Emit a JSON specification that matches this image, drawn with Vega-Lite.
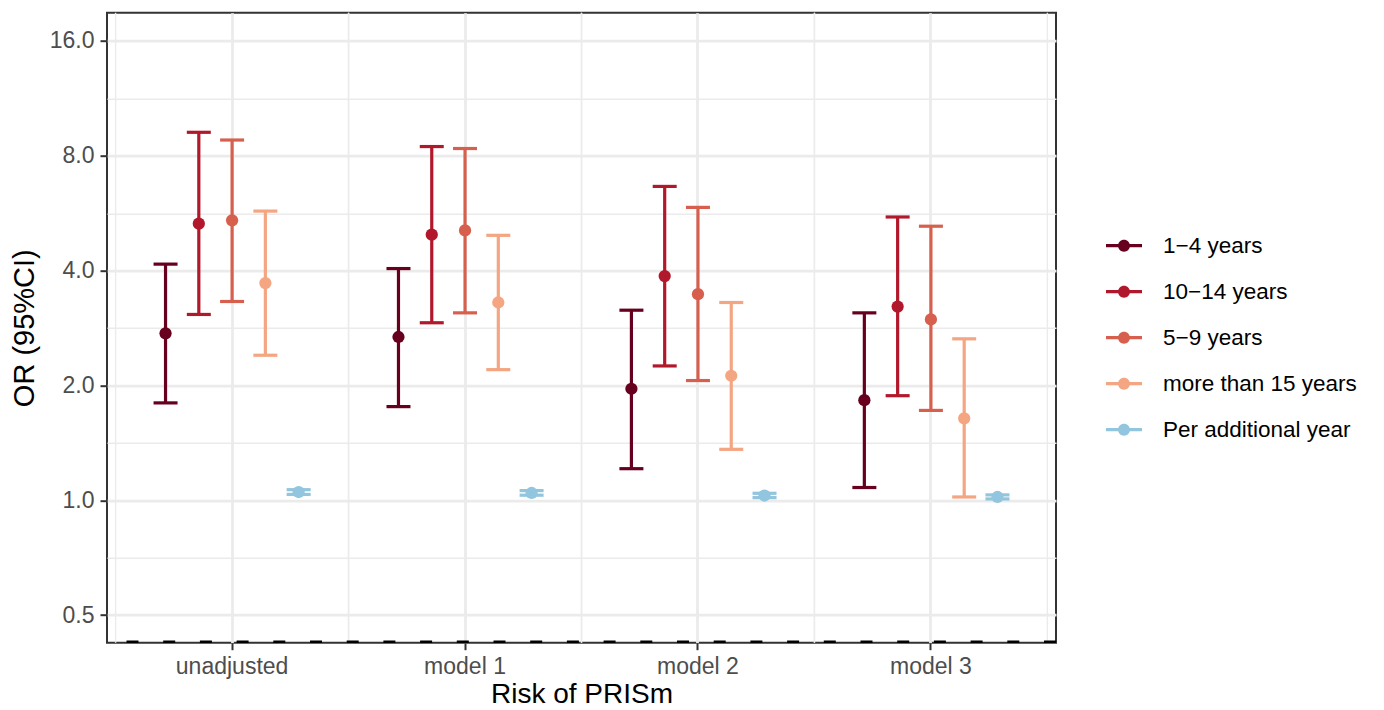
{
  "$schema": "https://vega.github.io/schema/vega-lite/v6.json",
  "width": 949,
  "height": 630,
  "autosize": {"type": "none"},
  "padding": {"left": 107, "top": 12.7, "right": 328, "bottom": 67.3},
  "config": {
    "font": "Liberation Sans",
    "view": {"stroke": "#333333", "strokeWidth": 2}
  },
  "datasets": {
    "or": [
      {"model": "unadjusted", "group": "1−4 years", "or": 2.74, "lo": 1.80, "hi": 4.16},
      {"model": "unadjusted", "group": "10−14 years", "or": 5.31, "lo": 3.07, "hi": 9.22},
      {"model": "unadjusted", "group": "5−9 years", "or": 5.42, "lo": 3.32, "hi": 8.80},
      {"model": "unadjusted", "group": "more than 15 years", "or": 3.71, "lo": 2.40, "hi": 5.73},
      {"model": "unadjusted", "group": "Per additional year", "or": 1.051, "lo": 1.036, "hi": 1.066},
      {"model": "model 1", "group": "1−4 years", "or": 2.68, "lo": 1.76, "hi": 4.05},
      {"model": "model 1", "group": "10−14 years", "or": 4.97, "lo": 2.92, "hi": 8.46},
      {"model": "model 1", "group": "5−9 years", "or": 5.10, "lo": 3.10, "hi": 8.36},
      {"model": "model 1", "group": "more than 15 years", "or": 3.30, "lo": 2.20, "hi": 4.95},
      {"model": "model 1", "group": "Per additional year", "or": 1.045, "lo": 1.031, "hi": 1.060},
      {"model": "model 2", "group": "1−4 years", "or": 1.96, "lo": 1.21, "hi": 3.15},
      {"model": "model 2", "group": "10−14 years", "or": 3.87, "lo": 2.25, "hi": 6.65},
      {"model": "model 2", "group": "5−9 years", "or": 3.47, "lo": 2.06, "hi": 5.86},
      {"model": "model 2", "group": "more than 15 years", "or": 2.12, "lo": 1.36, "hi": 3.30},
      {"model": "model 2", "group": "Per additional year", "or": 1.029, "lo": 1.016, "hi": 1.043},
      {"model": "model 3", "group": "1−4 years", "or": 1.83, "lo": 1.08, "hi": 3.10},
      {"model": "model 3", "group": "10−14 years", "or": 3.22, "lo": 1.88, "hi": 5.53},
      {"model": "model 3", "group": "5−9 years", "or": 2.98, "lo": 1.72, "hi": 5.23},
      {"model": "model 3", "group": "more than 15 years", "or": 1.64, "lo": 1.02, "hi": 2.65},
      {"model": "model 3", "group": "Per additional year", "or": 1.020, "lo": 1.008, "hi": 1.033}
    ],
    "models": [
      {"model": "unadjusted"},
      {"model": "model 1"},
      {"model": "model 2"},
      {"model": "model 3"}
    ]
  },
  "layer": [
    {
      "data": {"name": "models"},
      "mark": {"type": "rule", "color": "#ebebeb", "strokeWidth": 1.4},
      "encoding": {
        "x": {
          "field": "model", "type": "nominal", "bandPosition": 0,
          "scale": {"domain": ["unadjusted", "model 1", "model 2", "model 3"], "paddingInner": 0, "paddingOuter": 0.037},
          "title": "Risk of PRISm",
          "axis": {
            "grid": true, "gridColor": "#ebebeb", "gridWidth": 2.8, "bandPosition": 0.5,
            "domain": false, "tickColor": "#333333", "tickWidth": 2, "tickSize": 7,
            "labelFontSize": 23, "labelColor": "#4d4d4d", "labelPadding": 6, "labelAngle": 0,
            "titleFontSize": 28, "titleFontWeight": "normal", "titleColor": "#000000", "titlePadding": 2
          }
        }
      }
    },
    {
      "data": {"name": "models"},
      "mark": {"type": "rule", "color": "#ebebeb", "strokeWidth": 1.4},
      "encoding": {
        "x": {"field": "model", "type": "nominal", "bandPosition": 1, "title": "Risk of PRISm"}
      }
    },
    {
      "data": {"name": "or"},
      "mark": {"type": "rule", "strokeWidth": 3.2, "opacity": 1},
      "encoding": {
        "x": {"field": "model", "type": "nominal", "title": "Risk of PRISm"},
        "xOffset": {"field": "group", "type": "nominal", "scale": {"domain": ["1−4 years", "10−14 years", "5−9 years", "more than 15 years", "Per additional year"], "paddingInner": 0, "paddingOuter": 1.07}},
        "y": {
          "field": "lo", "type": "quantitative", "title": "OR (95%CI)",
          "scale": {"type": "log", "base": 2, "domain": [0.4232, 18.98], "nice": false, "zero": false},
          "axis": {
            "values": [0.5, 0.7071, 1, 1.4142, 2, 2.8284, 4, 5.6569, 8, 11.3137, 16],
            "labelExpr": "abs(log(datum.value)/LN2 - round(log(datum.value)/LN2)) > 0.25 ? '' : format(datum.value, '.1f')",
            "labelOverlap": false,
            "grid": true, "gridColor": "#ebebeb",
            "gridWidth": {"condition": {"test": "abs(log(datum.value)/LN2 - round(log(datum.value)/LN2)) > 0.25", "value": 1.4}, "value": 2.8},
            "tickOpacity": {"condition": {"test": "abs(log(datum.value)/LN2 - round(log(datum.value)/LN2)) > 0.25", "value": 0}, "value": 1},
            "domain": false, "tickColor": "#333333", "tickWidth": 2, "tickSize": 7,
            "labelFontSize": 23, "labelColor": "#4d4d4d", "labelPadding": 6,
            "titleFontSize": 29, "titleFontWeight": "normal", "titleColor": "#000000", "titlePadding": 10
          }
        },
        "y2": {"field": "hi"},
        "color": {"field": "group", "type": "nominal",
          "scale": {"domain": ["1−4 years", "10−14 years", "5−9 years", "more than 15 years", "Per additional year"], "range": ["#67001f", "#b2182b", "#d6604d", "#f4a582", "#92c5de"]},
          "legend": {
            "title": null,
            "orient": "none",
            "legendX": 999,
            "legendY": 215,
            "padding": 0,
            "symbolType": "M-1,-0.09H1V0.09H-1Z M-0.333,0A0.333,0.333 0 1,1 0.333,0A0.333,0.333 0 1,1 -0.333,0Z",
            "symbolSize": 1296,
            "symbolStrokeWidth": 0,
            "symbolOpacity": 1,
            "labelFontSize": 22.5,
            "labelColor": "#000000",
            "labelOffset": 21,
            "labelLimit": 0,
            "rowPadding": 16,
            "encode": {"symbols": {"update": {"fill": {"scale": "color", "field": "value"}, "stroke": {"value": "transparent"}, "opacity": {"value": 1}}}}
          }
        }
      }
    },
    {
      "data": {"name": "or"},
      "mark": {"type": "tick", "orient": "horizontal", "size": 24, "thickness": 3.2, "opacity": 1},
      "encoding": {
        "x": {"field": "model", "type": "nominal", "title": "Risk of PRISm"},
        "xOffset": {"field": "group", "type": "nominal"},
        "y": {"field": "lo", "type": "quantitative", "title": "OR (95%CI)"},
        "color": {"field": "group", "type": "nominal"}
      }
    },
    {
      "data": {"name": "or"},
      "mark": {"type": "tick", "orient": "horizontal", "size": 24, "thickness": 3.2, "opacity": 1},
      "encoding": {
        "x": {"field": "model", "type": "nominal", "title": "Risk of PRISm"},
        "xOffset": {"field": "group", "type": "nominal"},
        "y": {"field": "hi", "type": "quantitative", "title": "OR (95%CI)"},
        "color": {"field": "group", "type": "nominal"}
      }
    },
    {
      "data": {"name": "or"},
      "mark": {"type": "point", "filled": true, "shape": "circle", "size": 150, "opacity": 1},
      "encoding": {
        "x": {"field": "model", "type": "nominal", "title": "Risk of PRISm"},
        "xOffset": {"field": "group", "type": "nominal"},
        "y": {"field": "or", "type": "quantitative", "title": "OR (95%CI)"},
        "color": {"field": "group", "type": "nominal"}
      }
    },
    {
      "data": {"values": [{}]},
      "mark": {"type": "rule", "color": "#000000", "strokeWidth": 2.5, "strokeDash": [12, 24.7]},
      "encoding": {
        "y": {"datum": 0.4255, "type": "quantitative"}
      }
    }
  ]
}
